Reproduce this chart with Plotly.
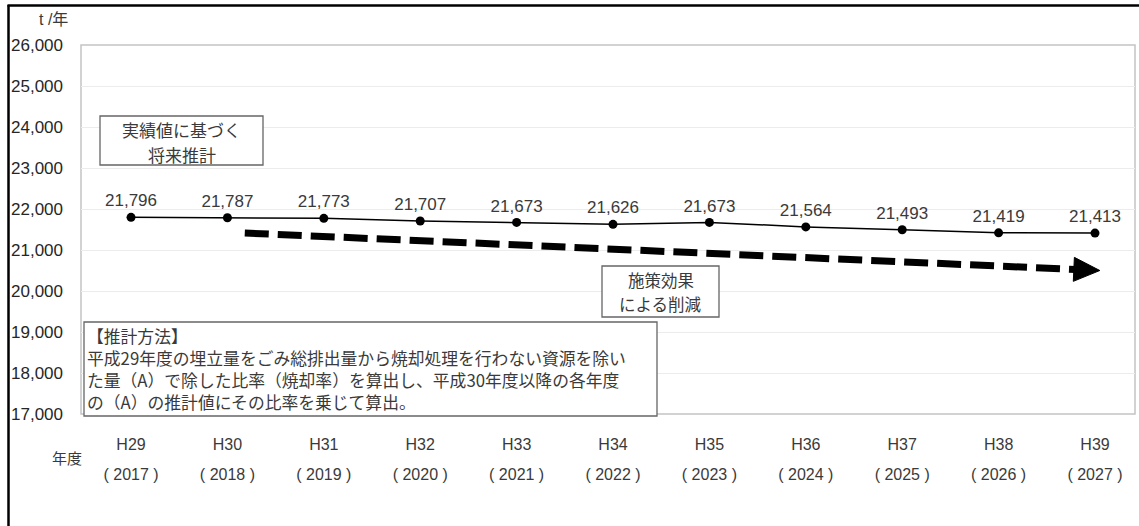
import plotly.graph_objects as go

# --- data -------------------------------------------------------------
era_labels = ["H29", "H30", "H31", "H32", "H33", "H34", "H35", "H36", "H37", "H38", "H39"]
year_labels = ["( 2017 )", "( 2018 )", "( 2019 )", "( 2020 )", "( 2021 )", "( 2022 )",
               "( 2023 )", "( 2024 )", "( 2025 )", "( 2026 )", "( 2027 )"]
landfill = [21796, 21787, 21773, 21707, 21673, 21626, 21673, 21564, 21493, 21419, 21413]

y_ticks = [17000, 18000, 19000, 20000, 21000, 22000, 23000, 24000, 25000, 26000]

# reduction trend arrow (start / tip in data units)
trend_x = [1.18, 10.05]
trend_y = [21415, 20500]

method_lines = [
    "【推計方法】",
    "平成29年度の埋立量をごみ総排出量から焼却処理を行わない資源を除い",
    "た量（A）で除した比率（焼却率）を算出し、平成30年度以降の各年度",
    "の（A）の推計値にその比率を乗じて算出。",
]
basis_lines = ["実績値に基づく", "将来推計"]
effect_lines = ["施策効果", "による削減"]

# --- layout geometry --------------------------------------------------
W, H = 1139, 526
ML, MR, MT, MB = 81, 4, 45, 112
PW, PH = W - ML - MR, H - MT - MB
X_RANGE = [-0.519, 10.415]
Y_RANGE = [17000, 26000]

LATIN = "Liberation Sans, Arial, Noto Sans CJK JP, sans-serif"
CJK = "Noto Sans CJK JP, sans-serif"
TXT = "#3a3a3a"


def px_x(px):
    return (px - ML) / PW


def px_y(py):
    return (MT + PH - py) / PH


xs = list(range(len(era_labels)))

fig = go.Figure()

# dashed trend line with filled triangular head
sx = PW / (X_RANGE[1] - X_RANGE[0])      # px per x unit
sy = PH / (Y_RANGE[1] - Y_RANGE[0])      # px per y unit
dx_px = (trend_x[1] - trend_x[0]) * sx
dy_px = -(trend_y[1] - trend_y[0]) * sy
L = (dx_px ** 2 + dy_px ** 2) ** 0.5
ux, uy = dx_px / L, dy_px / L
head_len, head_half = 26, 12
base_x = trend_x[1] - head_len * ux / sx
base_y = trend_y[1] + head_len * uy / sy
nx, ny = -uy, ux
tri_x = [trend_x[1], base_x + head_half * nx / sx, base_x - head_half * nx / sx, trend_x[1]]
tri_y = [trend_y[1], base_y - head_half * ny / sy, base_y + head_half * ny / sy, trend_y[1]]

fig.add_trace(go.Scatter(
    x=[trend_x[0], base_x + 2 * ux / sx], y=[trend_y[0], base_y - 2 * uy / sy],
    mode="lines", line=dict(color="black", width=7, dash="24px,9px"),
    hoverinfo="skip", showlegend=False))
fig.add_trace(go.Scatter(
    x=tri_x, y=tri_y, mode="lines", fill="toself", fillcolor="black",
    line=dict(color="black", width=1), hoverinfo="skip", showlegend=False))

# landfill projection
fig.add_trace(go.Scatter(
    x=xs, y=landfill, mode="lines+markers+text",
    line=dict(color="black", width=1.5),
    marker=dict(color="black", size=9),
    text=[f"{v:,}" for v in landfill], textposition="top center",
    textfont=dict(family=LATIN, size=17, color=TXT),
    cliponaxis=False, showlegend=False))

# carrier for the second row of category labels
fig.add_trace(go.Scatter(x=xs, y=landfill, xaxis="x2", mode="none",
                         hoverinfo="skip", showlegend=False))

shapes = []
annotations = []

# plot-area frame
shapes.append(dict(type="rect", xref="paper", yref="paper", x0=0, y0=0, x1=1, y1=1,
                   line=dict(color="#c4c4c4", width=1.5), layer="below"))
# outer figure frame (left and top edges)
shapes.append(dict(type="line", xref="paper", yref="paper",
                   x0=px_x(8.5), x1=px_x(8.5), y0=px_y(5), y1=px_y(530),
                   line=dict(color="black", width=2.5)))
shapes.append(dict(type="line", xref="paper", yref="paper",
                   x0=px_x(7.5), x1=px_x(1145), y0=px_y(5.5), y1=px_y(5.5),
                   line=dict(color="black", width=2.5)))


def box(x0, y0, x1, y1):
    shapes.append(dict(type="rect", xref="paper", yref="paper",
                       x0=px_x(x0), x1=px_x(x1), y0=px_y(y0), y1=px_y(y1),
                       fillcolor="white", line=dict(color="#666666", width=1.3),
                       layer="above"))


def label(px, py, text, size, anchor="center", align="center"):
    annotations.append(dict(xref="paper", yref="paper", x=px_x(px), y=px_y(py),
                            xanchor=anchor, yanchor="middle", text=text, align=align,
                            showarrow=False, borderpad=0,
                            font=dict(family=CJK, size=size, color=TXT)))


# "実績値に基づく 将来推計"
box(100, 116, 263, 165)
for line, yy in zip(basis_lines, [129, 154]):
    label(181.5, yy, line, 17)

# "施策効果 による削減"
box(602, 266, 719, 317)
for line, yy in zip(effect_lines, [280, 304]):
    label(660.5, yy, line, 16.5)

# estimation method note
box(84, 322, 657, 416)
label(86, 369, "<br>".join(method_lines), 16.8, anchor="left", align="left")

# axis captions
annotations.append(dict(xref="paper", yref="paper", x=px_x(53), y=px_y(20),
                        xanchor="center", yanchor="middle", text="t /年", showarrow=False,
                        font=dict(family=LATIN, size=16, color=TXT)))
annotations.append(dict(xref="paper", yref="paper", x=px_x(67), y=px_y(457),
                        xanchor="center", yanchor="middle", text="年度", showarrow=False,
                        font=dict(family=CJK, size=15, color=TXT)))

fig.update_layout(
    width=W, height=H,
    margin=dict(l=ML, r=MR, t=MT, b=MB),
    paper_bgcolor="white", plot_bgcolor="white",
    showlegend=False,
    shapes=shapes, annotations=annotations,
    xaxis=dict(range=X_RANGE, tickmode="array", tickvals=xs, ticktext=era_labels,
               showgrid=False, zeroline=False, showline=False, ticks="",
               tickfont=dict(family=LATIN, size=16, color=TXT), ticklabelstandoff=19),
    xaxis2=dict(range=X_RANGE, overlaying="x", anchor="y", side="bottom", matches="x",
                tickmode="array", tickvals=xs, ticktext=year_labels,
                showgrid=False, zeroline=False, showline=False, ticks="",
                tickfont=dict(family=LATIN, size=16, color=TXT), ticklabelstandoff=49),
    yaxis=dict(range=Y_RANGE, tickmode="array", tickvals=y_ticks,
               ticktext=[f"{v:,}" for v in y_ticks],
               showgrid=True, gridcolor="#ececec", gridwidth=1, zeroline=False,
               showline=False, ticks="", ticklabelstandoff=17,
               tickfont=dict(family=LATIN, size=17, color="#262626")),
)

fig.write_html("out.html")
